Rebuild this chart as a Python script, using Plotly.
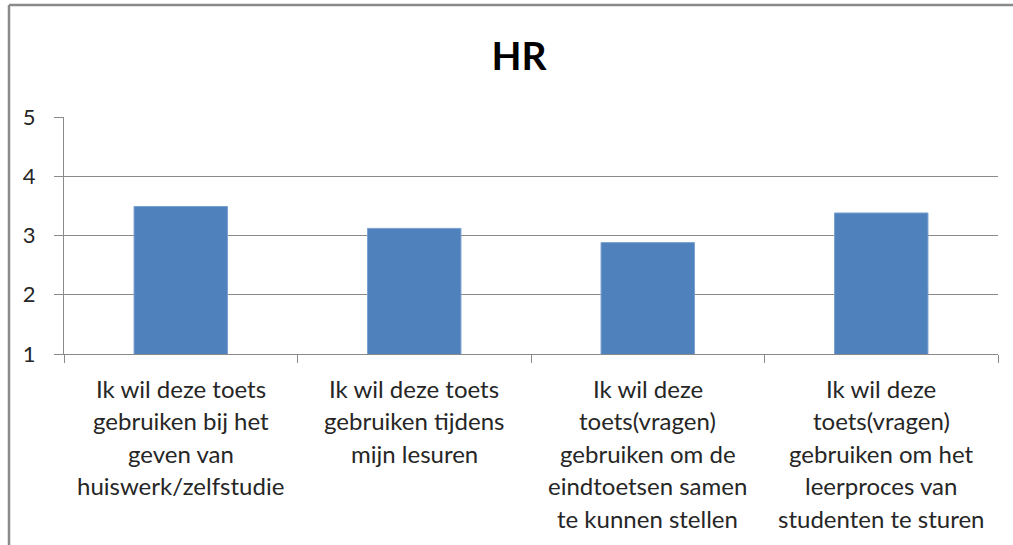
import plotly.graph_objects as go

categories = [
    "Ik wil deze toets<br>gebruiken bij het<br>geven van<br>huiswerk/zelfstudie",
    "Ik wil deze toets<br>gebruiken tijdens<br>mijn lesuren",
    "Ik wil deze<br>toets(vragen)<br>gebruiken om de<br>eindtoetsen samen<br>te kunnen stellen",
    "Ik wil deze<br>toets(vragen)<br>gebruiken om het<br>leerproces van<br>studenten te sturen",
]
values = [3.49, 3.12, 2.88, 3.38]
y_ticks = [1, 2, 3, 4, 5]
title_text = "HR"

W, H = 1013, 545
ml, mr, mt, mb = 64, 15, 117, 191
pw = W - ml - mr
ph = H - mt - mb

FONT = "Lato"
GRAY = "#8a8a8a"

fig = go.Figure()
fig.add_trace(go.Bar(
    x=categories, y=values,
    marker=dict(color="#4F81BD", line=dict(color="#7a9fd0", width=1)),
    width=0.4,
    hoverinfo="x+y",
))

# multi-line category labels, one annotation per line for Excel-like spacing
line_gap = 32.6
first_off = 34
for cat in categories:
    for j, line in enumerate(cat.split("<br>")):
        fig.add_annotation(
            x=cat, y=0, xref="x", yref="paper",
            text=line, showarrow=False,
            xanchor="center", yanchor="middle",
            yshift=-(first_off + j * line_gap),
            font=dict(family=FONT, size=24, color="#262626"),
        )

# outer chart border (left and top visible; cropped on right/bottom)
bx = (9 - ml) / pw
by = (ph + mt - 5) / ph
fig.add_shape(type="line", xref="paper", yref="paper",
              x0=bx, x1=bx, y0=-1.0, y1=by,
              line=dict(color=GRAY, width=2.5))
fig.add_shape(type="line", xref="paper", yref="paper",
              x0=bx, x1=1.2, y0=by, y1=by,
              line=dict(color=GRAY, width=2.5))

fig.update_layout(
    width=W, height=H,
    margin=dict(l=ml, r=mr, t=mt, b=mb, autoexpand=False),
    paper_bgcolor="white", plot_bgcolor="white",
    showlegend=False,
    title=dict(text="<b>" + title_text + "</b>",
               x=(519 - ml) / pw, xref="paper", xanchor="center",
               y=1 - 56 / H, yref="container", yanchor="middle",
               font=dict(family=FONT, size=39, color="black")),
    bargap=0.6,
)
fig.update_xaxes(
    type="category",
    showticklabels=False,
    ticks="outside", tickson="boundaries", ticklen=8,
    tickcolor=GRAY, tickwidth=1,
    showline=True, linecolor=GRAY, linewidth=1,
    showgrid=False,
)
fig.update_yaxes(
    range=[1, 5],
    tickvals=y_ticks,
    ticks="outside", ticklen=9, tickcolor=GRAY, tickwidth=1,
    showline=True, linecolor=GRAY, linewidth=1,
    showgrid=True, gridcolor=GRAY, gridwidth=1,
    zeroline=False,
    tickfont=dict(family=FONT, size=22, color="#262626"),
    ticklabelstandoff=14,
)

fig.write_html("out.html", config={"displayModeBar": False},
               post_script="document.body.style.margin='0';")
